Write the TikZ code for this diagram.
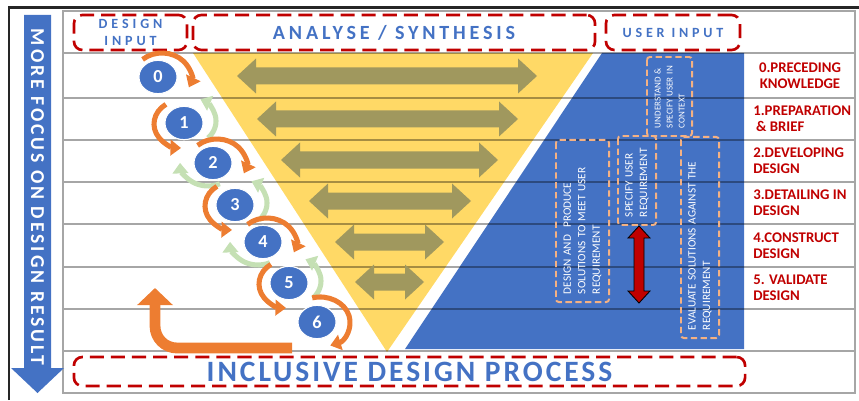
\documentclass[tikz,border=0pt]{standalone}
\usepackage{fontspec}
\setmainfont{Carlito}
\usetikzlibrary{arrows.meta,shapes.geometric,calc}

\definecolor{ofblue}{HTML}{4472C4}
\definecolor{oforange}{HTML}{ED7D31}
\definecolor{ofgreen}{HTML}{C5E0B4}
\definecolor{ofyellow}{HTML}{FFD966}
\definecolor{ofolive}{HTML}{A0985E}
\definecolor{ofred}{HTML}{C00000}
\definecolor{ofpeach}{HTML}{F4B183}

\begin{document}
\begin{tikzpicture}[x=0.025cm,y=0.025cm,
    hdr/.style={draw=ofred, line width=1.9pt, dash pattern=on 10pt off 5pt, rounded corners=6pt, text=ofblue, inner sep=0pt, align=center},
    stage/.style={ellipse, fill=ofblue, draw=white, line width=0.7pt, minimum width=0.95cm, minimum height=0.83cm, inner sep=0pt, text=white, font=\fontsize{13}{15}\selectfont\bfseries},
    fwd/.style={draw=oforange, line width=3.6pt, -{Triangle[width=11pt,length=7.5pt]}},
    back/.style={draw=ofgreen, line width=3.6pt, -{Triangle[width=11pt,length=7.5pt]}},
    task/.style={draw=ofpeach, line width=1.4pt, dash pattern=on 4.5pt off 2.5pt, rounded corners=2pt, rotate=90, text=white, align=left, inner sep=0pt, font=\fontsize{8}{10.3}\selectfont},
    phase/.style={text=ofred, font=\fontsize{10.5}{11.4}\selectfont\bfseries, align=left, anchor=west, inner sep=0pt}]

    \useasboundingbox (0,0) rectangle (859,-400);

    % funnel and user side
    \fill[ofyellow] (193,-53) -- (593,-53) -- (387,-352) -- cycle;
    \fill[ofblue] (602,-53) -- (744,-53) -- (744,-349) -- (405,-349) -- cycle;

    % table rows
    \foreach \y in {53,98,140,182,224,267,309,351}
        \draw[black, opacity=0.35, line width=0.8pt] (63,-\y) -- (855,-\y);
    \draw[gray!70, line width=0.8pt] (63,-11) rectangle (855,-393);

    % analyse / synthesis arrows
    \foreach \xa/\xb/\yc in {237/537/76, 257/518/119, 281/498/160, 309/471/201, 335/444/242, 355/424/282}
        \fill[ofolive] (\xa,-\yc) -- (\xa+19,-\yc+17.5) -- (\xa+19,-\yc+8.5) -- (\xb-19,-\yc+8.5) -- (\xb-19,-\yc+17.5) -- (\xb,-\yc)
            -- (\xb-19,-\yc-17.5) -- (\xb-19,-\yc-8.5) -- (\xa+19,-\yc-8.5) -- (\xa+19,-\yc-17.5) -- cycle;

    % side arrow
    \fill[ofblue] (24,-15) -- (51,-15) -- (51,-368) -- (64,-368) -- (37.5,-393) -- (11,-368) -- (24,-368) -- cycle;
    \node[rotate=-90, text=white, font=\fontsize{14}{16}\selectfont\bfseries\addfontfeature{LetterSpace=15}] (focus) at (37.5,-197) {MORE FOCUS ON DESIGN RESULT};

    % headings
    \node[hdr, minimum width=2.825cm, minimum height=0.875cm, font=\fontsize{10}{11.5}\selectfont\bfseries\addfontfeature{LetterSpace=28}] (din) at (130.5,-32.5) {DESIGN\\INPUT};
    \node[hdr, minimum width=10.05cm, minimum height=0.875cm, font=\fontsize{14.3}{16}\selectfont\bfseries\addfontfeature{LetterSpace=19}] (ana) at (394,-32.5) {ANALYSE / SYNTHESIS};
    \node[hdr, minimum width=3.35cm, minimum height=0.875cm, font=\fontsize{10}{12}\selectfont\bfseries\addfontfeature{LetterSpace=27}] (uin) at (673,-32.5) {USER INPUT};
    \node[hdr, minimum width=16.775cm, minimum height=0.725cm, font=\fontsize{21}{24}\selectfont\bfseries\addfontfeature{LetterSpace=10}] (idp) at (409.5,-371.5) {INCLUSIVE DESIGN PROCESS};

    % stages
    \node[stage] (c0) at (158,-77) {0};
    \node[stage] (c1) at (184,-123) {1};
    \node[stage] (c2) at (213,-163) {2};
    \node[stage] (c3) at (235,-205) {3};
    \node[stage] (c4) at (263,-242) {4};
    \node[stage] (c5) at (289,-283) {5};
    \node[stage] (c6) at (317,-322) {6};

    \foreach \c in {1,3,5}
        \draw[back] ($(c\c)+(5,2)+(-45:27 and 24)$) arc[start angle=-45, end angle=65, x radius=27, y radius=24];
    \foreach \c in {2,4}
        \draw[back] ($(c\c)+(-5,1)+(-65:28 and 24)$) arc[start angle=-65, end angle=-178, x radius=28, y radius=24];
    \foreach \c in {0,2,4}
        \draw[fwd] ($(c\c)+(4,-1)+(132:29 and 25)$) arc[start angle=132, end angle=-22, x radius=29, y radius=25];
    \foreach \c in {1,3,5}
        \draw[fwd] ($(c\c)+(-2,-1)+(125:28 and 24)$) arc[start angle=125, end angle=268, x radius=28, y radius=24];
    \draw[fwd] ($(c6)+(3,0)+(105:30 and 25)$) arc[start angle=105, end angle=-70, x radius=30, y radius=25];

    \foreach \c in {0,...,6}
        \node[stage] at (c\c) {\c};

    % back to the start
    \coordinate (ret) at (292,-348);
    \coordinate (restart) at (155,-288);
    \draw[oforange, line width=0.27cm, rounded corners=0.55cm, -{Triangle[width=0.875cm,length=0.43cm]}] (ret) -| (restart);

    % user activities
    \node[task, minimum width=1.975cm, minimum height=1.125cm, text width=1.575cm, font=\fontsize{6.4}{8.5}\selectfont] (ta) at (669.5,-96.5) {UNDERSTAND \&\\SPECIFY USER IN\\CONTEXT};
    \node[task, minimum width=4.05cm, minimum height=1.325cm, text width=3.65cm] (tb) at (582.5,-221) {DESIGN AND \ PRODUCE\\SOLUTIONS TO MEET USER\\REQUIREMENT};
    \node[task, minimum width=2.225cm, minimum height=0.95cm, text width=1.825cm] (tc) at (637,-180.5) {SPECIFY USER\\REQUIREMENT};
    \node[task, minimum width=5.025cm, minimum height=0.95cm, text width=4.625cm] (td) at (700,-237.5) {EVALUATE SOLUTIONS AGAINST THE\\REQUIREMENT};

    \filldraw[fill=ofred, draw=black, line width=0.6pt] (639,-226) -- (650,-238) -- (644,-238) -- (644,-291) -- (650,-291) -- (639,-303)
        -- (628,-291) -- (634,-291) -- (634,-238) -- (628,-238) -- cycle;

    % phases
    \node[phase, anchor=center, align=center] (p0) at (800,-75.5) {0.PRECEDING\\KNOWLEDGE};
    \node[phase] (p1) at (753,-119) {1.PREPARATION\\\hspace{2pt}\& BRIEF};
    \node[phase] (p2) at (753,-161) {2.DEVELOPING\\DESIGN};
    \node[phase] (p3) at (753,-203) {3.DETAILING IN\\DESIGN};
    \node[phase] (p4) at (753,-245.5) {4.CONSTRUCT\\DESIGN};
    \node[phase] (p5) at (753,-288) {5. VALIDATE\\DESIGN};

    \draw[black!85, line width=1.6pt] (9,-400) -- (9,-7.5) -- (859,-7.5);

\end{tikzpicture}
\end{document}
